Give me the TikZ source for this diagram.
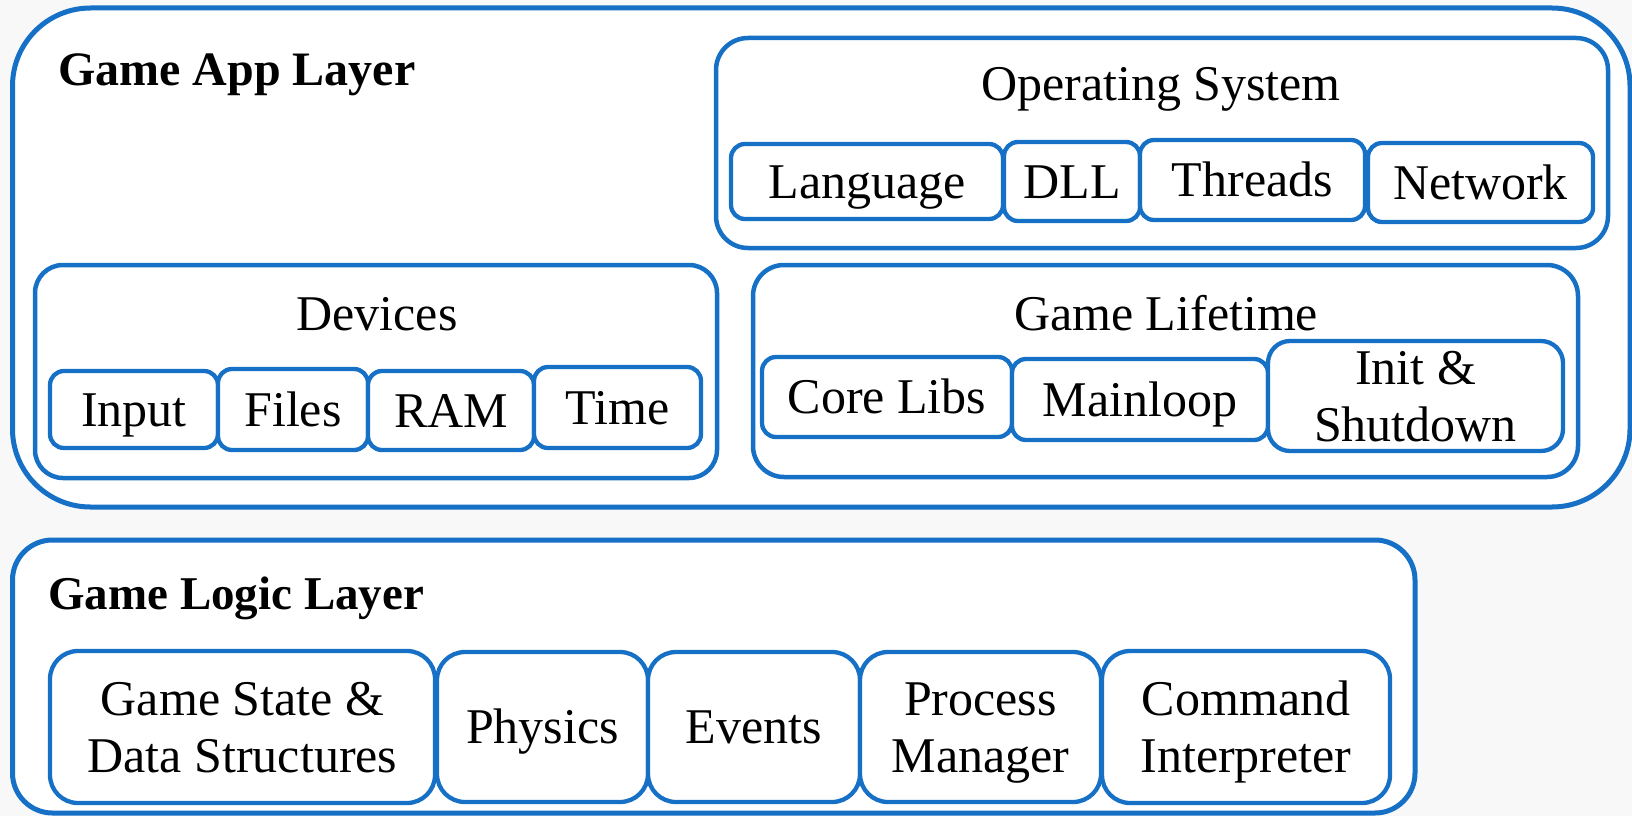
\documentclass[tikz,border=0pt]{standalone}
\usepackage{fontspec}
\setmainfont{Liberation Serif}
\definecolor{accent}{HTML}{1570C6}
\definecolor{paper}{HTML}{F8F8F8}
\newcommand\itemfont{\fontsize{50}{57}\selectfont}
\newcommand\layerfont{\fontsize{48}{56}\selectfont\bfseries}
\tikzset{
  layer/.style={draw=accent, line width=5pt, fill=white, inner sep=0pt},
  group/.style={draw=accent, line width=4.5pt, fill=white, inner sep=0pt},
  item/.style={draw=accent, line width=4.3pt, fill=white, inner sep=0pt,
    rounded corners=14pt, font=\itemfont, text height=33pt, text depth=0pt},
  item2/.style={item, align=center, text height=90pt, text depth=0pt},
  gtitle/.style={anchor=base, inner sep=0pt, font=\itemfont},
  ltitle/.style={anchor=base west, inner sep=0pt, font=\layerfont},
}
% \panel[style]{name}{x1}{y1}{x2}{y2}{text}: rounded box spanning two corners
\newcommand\panel[7][]{%
  \pgfmathsetmacro\panelw{#5-#3}%
  \pgfmathsetmacro\panelh{#6-#4}%
  \node[#1, minimum width=\panelw pt, minimum height=\panelh pt]
    (#2) at ({(#3+#5)/2},{(#4+#6)/2}) {#7};}
\begin{document}
\begin{tikzpicture}[x=1pt, y=-1pt]
  \useasboundingbox (0,0) rectangle (1632,816);
  \fill[paper] (0,0) rectangle (1632,816);

  % Game App Layer
  \panel[layer, rounded corners=78pt]{app}{12.5}{8}{1630}{507}{}
  \node[ltitle] (apptitle) at (58,85) {Game App Layer};

  % Operating System
  \panel[group, rounded corners=32pt]{os}{716}{38}{1608}{248}{}
  \node[gtitle] (ostitle) at (1161,100) {Operating System};
  \panel[item]{lang}{731}{144}{1003}{219}{Language}
  \panel[item]{dll}{1004}{142}{1140}{221}{DLL}
  \panel[item]{thr}{1140}{140}{1365}{220}{Threads}
  \panel[item]{net}{1368}{143}{1593}{222}{Network}

  % Devices
  \panel[group, rounded corners=28pt]{dev}{35}{265}{717}{478}{}
  \node[gtitle] (devtitle) at (377,330) {Devices};
  \panel[item]{input}{50}{371}{218}{448}{Input}
  \panel[item]{files}{218}{369}{368}{450}{Files}
  \panel[item]{ram}{368}{371}{534}{450}{RAM}
  \panel[item]{time}{534}{367}{701}{448}{Time}

  % Game Lifetime
  \panel[group, rounded corners=31pt]{life}{753}{265}{1578}{477}{}
  \node[gtitle] (lifetitle) at (1166,330) {Game Lifetime};
  \panel[item]{core}{762}{357}{1012}{437}{Core Libs}
  \panel[item]{main}{1012}{359}{1268}{440}{Mainloop}
  \panel[item2, rounded corners=22pt]{init}{1268}{341}{1563}{451}{Init \&\\Shutdown}

  % Game Logic Layer
  \panel[layer, rounded corners=40pt]{logic}{12.5}{540}{1415}{813}{}
  \node[ltitle, font=\fontsize{47}{55}\selectfont\bfseries] (logictitle) at (48,609) {Game Logic Layer};
  \panel[item2, rounded corners=28pt]{state}{50}{651}{435}{803}{Game State \&\\Data Structures}
  \panel[item, rounded corners=28pt]{phys}{437}{652}{648}{802}{Physics}
  \panel[item, rounded corners=28pt]{events}{648}{652}{860}{802}{Events}
  \panel[item2, rounded corners=28pt]{proc}{860}{652}{1101}{802}{Process\\Manager}
  \panel[item2, rounded corners=28pt]{cmd}{1102}{651}{1390}{803}{Command\\Interpreter}
\end{tikzpicture}
\end{document}
